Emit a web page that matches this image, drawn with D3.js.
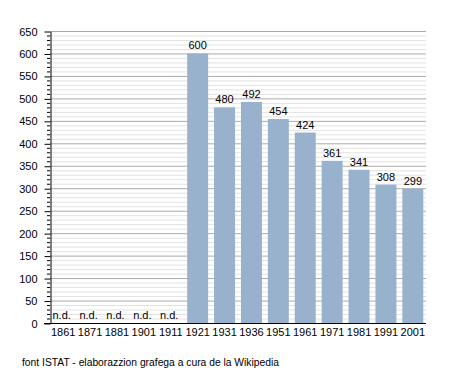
<!DOCTYPE html>
<html lang="vec">
<head>
<meta charset="UTF-8">
<title>Popolassion</title>
<script src="https://d3js.org/d3.v7.min.js"></script>
<style>
  body { margin: 0; background: #fff; }
  text { font-family: "Liberation Sans", Arial, sans-serif; fill: #000; }
</style>
</head>
<body>
<script>
// anni del censimento
const years = ["1861", "1871", "1881", "1901", "1911", "1921", "1931", "1936", "1951", "1961", "1971", "1981", "1991", "2001"];
// abitanti (null = n.d.)
const population = [null, null, null, null, null, 600, 480, 492, 454, 424, 361, 341, 308, 299];
const yTicks = d3.range(0, 651, 50);
const sourceNote = "font ISTAT - elaborazzion grafega a cura de la Wikipedia";

const width = 455, height = 373;
const mLeft = 50, mRight = 426, mTop = 31, mBottom = 323;

const svg = d3.select("body").append("svg")
  .attr("width", width)
  .attr("height", height);

const x = d3.scaleBand()
  .domain(years)
  .range([mLeft, mRight])
  .paddingInner(0.22)
  .paddingOuter(0.1);

const y = d3.scaleLinear()
  .domain([0, 650])
  .range([mBottom, mTop]);

const minor = d3.range(10, 650, 10).filter(d => d % 50 !== 0);

// griglia minore
svg.append("g")
  .selectAll("line")
  .data(minor)
  .join("line")
  .attr("x1", mLeft).attr("x2", mRight)
  .attr("y1", d => y(d) + 0.5).attr("y2", d => y(d) + 0.5)
  .attr("stroke", "#e2e2e2");

// griglia maggiore
svg.append("g")
  .selectAll("line")
  .data(yTicks.filter(d => d > 0))
  .join("line")
  .attr("x1", mLeft).attr("x2", mRight)
  .attr("y1", d => y(d) + 0.5).attr("y2", d => y(d) + 0.5)
  .attr("stroke", "#aaaaaa");

const rows = years.map((yr, i) => ({ yr, v: population[i] }));

// barre
svg.append("g")
  .selectAll("rect")
  .data(rows.filter(d => d.v !== null))
  .join("rect")
  .attr("x", d => x(d.yr))
  .attr("width", x.bandwidth())
  .attr("y", d => y(d.v))
  .attr("height", d => y(0) - y(d.v))
  .attr("fill", "#98b1cc");

// etichette valori
svg.append("g")
  .selectAll("text")
  .data(rows)
  .join("text")
  .attr("x", d => x(d.yr) + x.bandwidth() / 2 - (d.v === null ? 1.5 : 0))
  .attr("y", d => y(d.v === null ? 0 : d.v) - 4)
  .attr("text-anchor", "middle")
  .attr("font-size", 11)
  .text(d => d.v === null ? "n.d." : d.v);

// tacche minori
svg.append("g")
  .selectAll("line")
  .data(minor)
  .join("line")
  .attr("x1", mLeft - 3).attr("x2", mLeft)
  .attr("y1", d => y(d) + 0.5).attr("y2", d => y(d) + 0.5)
  .attr("stroke", "#000");

// asse y
const yAxis = svg.append("g")
  .attr("transform", `translate(${mLeft + 0.5},0.5)`)
  .call(d3.axisLeft(y).tickValues(yTicks).tickSize(6).tickPadding(7).tickSizeOuter(0));
yAxis.select(".domain").attr("stroke", "#000");
yAxis.selectAll("text").attr("font-size", 11).attr("font-family", "Liberation Sans, Arial, sans-serif");

// asse x
svg.append("line")
  .attr("x1", mLeft - 6).attr("x2", mRight)
  .attr("y1", mBottom + 0.5).attr("y2", mBottom + 0.5)
  .attr("stroke", "#000");

svg.append("g")
  .selectAll("text")
  .data(years)
  .join("text")
  .attr("x", d => x(d) + x.bandwidth() / 2)
  .attr("y", mBottom + 13)
  .attr("text-anchor", "middle")
  .attr("font-size", 11)
  .text(d => d);

// fonte
svg.append("text")
  .attr("x", 22)
  .attr("y", 366)
  .attr("font-size", 10.3)
  .text(sourceNote);
</script>
</body>
</html>
